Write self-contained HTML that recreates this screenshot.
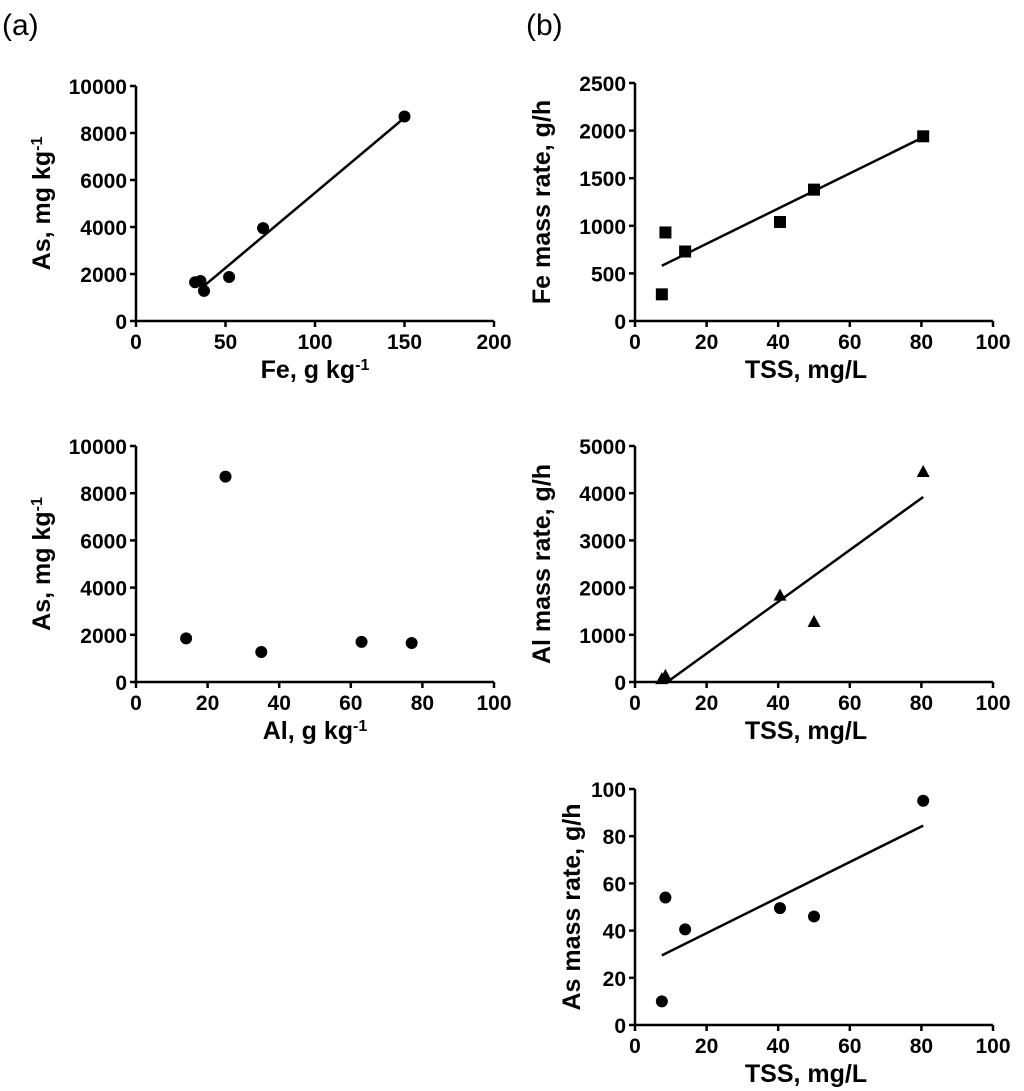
<!DOCTYPE html>
<html><head><meta charset="utf-8"><style>
body{margin:0;background:#fff}
svg{display:block;font-family:"Liberation Sans",Arial,sans-serif}
.tk{font-size:21px;font-weight:bold}
.ti{font-size:25px;font-weight:bold}
</style></head><body>
<svg id="fig" width="1024" height="1091">
<text x="2" y="35" font-size="30">(a)</text>
<text x="526" y="35" font-size="30">(b)</text>
</svg>
<script>
const a1X=[33,36,38,52,71,150];
const a1Y=[1650,1700,1280,1870,3950,8700];
const a1Fit=[[35,1300],[150,8650]];
const a2X=[14,25,35,63,77];
const a2Y=[1850,8700,1270,1700,1650];
const b1X=[7.5,8.5,14,40.5,50,80.5];
const b1Y=[280,930,730,1040,1380,1940];
const b1Fit=[[7.5,580],[80.5,1930]];
const b2X=[7.5,8.5,40.5,50,80.5];
const b2Y=[60,130,1830,1270,4450];
const b2Fit=[[9,0],[80.5,3920]];
const b3X=[7.5,8.5,14,40.5,50,80.5];
const b3Y=[10,54,40.5,49.5,46,95];
const b3Fit=[[7.5,29.5],[80.5,84.5]];
const fig=document.getElementById('fig');
const NS='http://www.w3.org/2000/svg';
function el(t,a,p){const e=document.createElementNS(NS,t);for(const k in a)e.setAttribute(k,a[k]);(p||fig).appendChild(e);return e;}
function panel(o){
 const g=el('g',{});
 
 
 const sx=v=>o.x0+(v-o.xmin)/(o.xmax-o.xmin)*(o.x1-o.x0);
 const sy=v=>o.y0-(v/o.ymax)*(o.y0-o.y1);
 el('line',{x1:o.x0,y1:o.y0,x2:o.x1,y2:o.y0,stroke:'#000','stroke-width':2.5},g);
 el('line',{x1:o.x0,y1:o.y0,x2:o.x0,y2:o.y1,stroke:'#000','stroke-width':2.5},g);
 o.xt.forEach(v=>{const x=sx(v);el('line',{x1:x,y1:o.y0,x2:x,y2:o.y0+6,stroke:'#000','stroke-width':2.5},g);
  const t=el('text',{x:x,y:o.y0+28,'text-anchor':'middle',class:'tk'},g);t.textContent=v;});
 o.yt.forEach(v=>{const y=sy(v);el('line',{x1:o.x0-6,y1:y,x2:o.x0,y2:y,stroke:'#000','stroke-width':2.5},g);
  const t=el('text',{x:o.x0-9,y:y+8,'text-anchor':'end',class:'tk'},g);t.textContent=v;});
 const xt=el('text',{x:(o.x0+o.x1)/2-(o.xoff||0),y:o.y0+57,'text-anchor':'middle',class:'ti'},g);
 
 xt.innerHTML=o.xl;
 const yt=el('text',{transform:`translate(${o.ytx},${(o.y0+o.y1)/2}) rotate(-90)`,'text-anchor':'middle',class:'ti'},g);
 
 yt.innerHTML=o.yl;
 if(o.fit){const l=el('line',{x1:sx(o.fit[0][0]),y1:sy(o.fit[0][1]),x2:sx(o.fit[1][0]),y2:sy(o.fit[1][1]),stroke:'#000','stroke-width':2.5},g);
  }
 o.xs.forEach((v,i)=>{const x=sx(v),y=sy(o.ys[i]);let m;
  if(o.m==='sq')m=el('rect',{x:x-6,y:y-6,width:12,height:12,fill:'#000'},g);
  else if(o.m==='tri')m=el('polygon',{points:`${x},${y-7} ${x-6.5},${y+5} ${x+6.5},${y+5}`,fill:'#000'},g);
  else m=el('circle',{cx:x,cy:y,r:6,fill:'#000'},g);
  });
}
const sup='<tspan baseline-shift="super" font-size="16">-1</tspan>';
panel({name:'panel-as-vs-fe',x0:136,x1:494,xmin:0,xmax:200,y0:321,y1:86,ymax:10000,xt:[0,50,100,150,200],yt:[0,2000,4000,6000,8000,10000],xs:a1X,ys:a1Y,fit:a1Fit,xl:'Fe, g kg'+sup,yl:'As, mg kg'+sup,ytx:50});
panel({name:'panel-as-vs-al',x0:136,x1:494,xmin:0,xmax:100,y0:682,y1:446,ymax:10000,xt:[0,20,40,60,80,100],yt:[0,2000,4000,6000,8000,10000],xs:a2X,ys:a2Y,xl:'Al, g kg'+sup,yl:'As, mg kg'+sup,ytx:50});
panel({name:'panel-fe-rate',x0:635,x1:993,xmin:0,xmax:100,y0:321,y1:83,ymax:2500,xt:[0,20,40,60,80,100],yt:[0,500,1000,1500,2000,2500],xs:b1X,ys:b1Y,fit:b1Fit,m:'sq',xl:'TSS, mg/L',yl:'Fe mass rate, g/h',ytx:550,xoff:8});
panel({name:'panel-al-rate',x0:635,x1:993,xmin:0,xmax:100,y0:682,y1:446,ymax:5000,xt:[0,20,40,60,80,100],yt:[0,1000,2000,3000,4000,5000],xs:b2X,ys:b2Y,fit:b2Fit,m:'tri',xl:'TSS, mg/L',yl:'Al mass rate, g/h',ytx:550,xoff:8});
panel({name:'panel-as-rate',x0:635,x1:993,xmin:0,xmax:100,y0:1025,y1:789,ymax:100,xt:[0,20,40,60,80,100],yt:[0,20,40,60,80,100],xs:b3X,ys:b3Y,fit:b3Fit,xl:'TSS, mg/L',yl:'As mass rate, g/h',ytx:580,xoff:8});
</script>
</body></html>
